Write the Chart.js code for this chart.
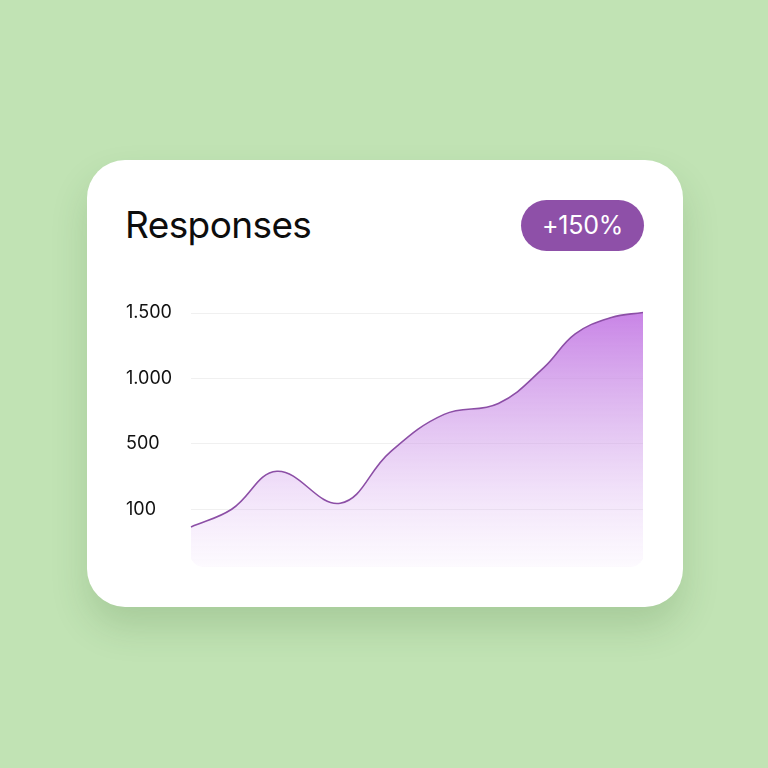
<!DOCTYPE html>
<html>
<head>
<meta charset="utf-8">
<script src="https://cdn.jsdelivr.net/npm/chart.js@4.4.1/dist/chart.umd.min.js"></script>
<style>
  html, body { margin: 0; padding: 0; }
  body { width: 768px; height: 768px; background: #c1e3b4; position: relative; overflow: hidden; font-family: Inter, "Noto Sans", sans-serif; }
  .card { position: absolute; left: 87px; top: 160px; width: 596px; height: 447px; background: #fff; border-radius: 38px;
          box-shadow: 0 20px 36px rgba(40, 90, 30, 0.17); }
  .title { position: absolute; left: 125px; top: 203px; font-size: 37px; color: #0d0d0d; letter-spacing: -0.6px; line-height: 44px; font-weight: 400; }
  .badge { position: absolute; left: 521px; top: 200px; width: 123px; height: 51px; border-radius: 26px; background: #8e50a8;
           color: #fff; font-size: 25px; line-height: 51px; text-align: center; letter-spacing: -0.2px; }
  .wrap { position: absolute; left: 126px; top: 300px; width: 520px; height: 278px; }
</style>
</head>
<body>
<div class="card"></div>
<div class="title">Responses</div>
<div class="badge">+150%</div>
<div class="wrap"><canvas id="c"></canvas></div>
<script>
// Period position (% of range) and responses (axis units: 500 per grid step)
const periods   = [0, 9, 19, 33, 44, 56, 68, 78, 85, 93, 100];
const responses = [-135, 0, 290, 46, 435, 725, 809, 1080, 1340, 1466, 1504];
const tickValues = [0, 500, 1000, 1500];
const tickLabels = ['100', '500', '1.000', '1.500'];

const points = periods.map((p, i) => ({ x: p, y: responses[i] }));

const roundClip = {
  id: 'roundClip',
  beforeDatasetsDraw(chart) {
    const a = chart.chartArea, ctx = chart.ctx;
    ctx.save();
    ctx.beginPath();
    ctx.roundRect(a.left - 1, a.top - 20, a.right - a.left + 2, a.bottom - a.top + 20, [0, 0, 14, 14]);
    ctx.clip();
  },
  afterDatasetsDraw(chart) { chart.ctx.restore(); }
};

new Chart(document.getElementById('c'), {
  type: 'line',
  data: {
    datasets: [{
      data: points,
      borderColor: '#8c4fa6',
      borderWidth: 1.6,
      pointRadius: 0,
      tension: 0.4,
      fill: 'start',
      clip: false,
      backgroundColor(ctx) {
        const a = ctx.chart.chartArea;
        if (!a) return 'rgba(200,130,230,0.4)';
        const g = ctx.chart.ctx.createLinearGradient(0, a.top, 0, a.bottom);
        g.addColorStop(0, 'rgba(196,122,228,0.92)');
        g.addColorStop(0.5, 'rgba(205,150,232,0.5)');
        g.addColorStop(1, 'rgba(225,190,245,0.08)');
        return g;
      }
    }]
  },
  options: {
    responsive: true,
    maintainAspectRatio: false,
    animation: false,
    layout: { padding: { top: 13, bottom: 0, right: 3, left: 0 } },
    plugins: { legend: { display: false }, tooltip: { enabled: false } },
    scales: {
      x: { type: 'linear', min: 0, max: 100, display: false },
      y: {
        min: -443, max: 1500,
        afterBuildTicks(scale) { scale.ticks = tickValues.map(v => ({ value: v })); },
        afterFit(scale) { scale.width = 65; },
        border: { display: false },
        grid: { color: '#f0f0f0', lineWidth: 1, drawTicks: false },
        ticks: {
          crossAlign: 'far',
          padding: 0,
          color: '#111111',
          font: { family: 'Inter', size: 18 },
          callback(value) { const i = tickValues.indexOf(value); return i >= 0 ? tickLabels[i] : ''; }
        }
      }
    }
  },
  plugins: [roundClip]
});
</script>
</body>
</html>
